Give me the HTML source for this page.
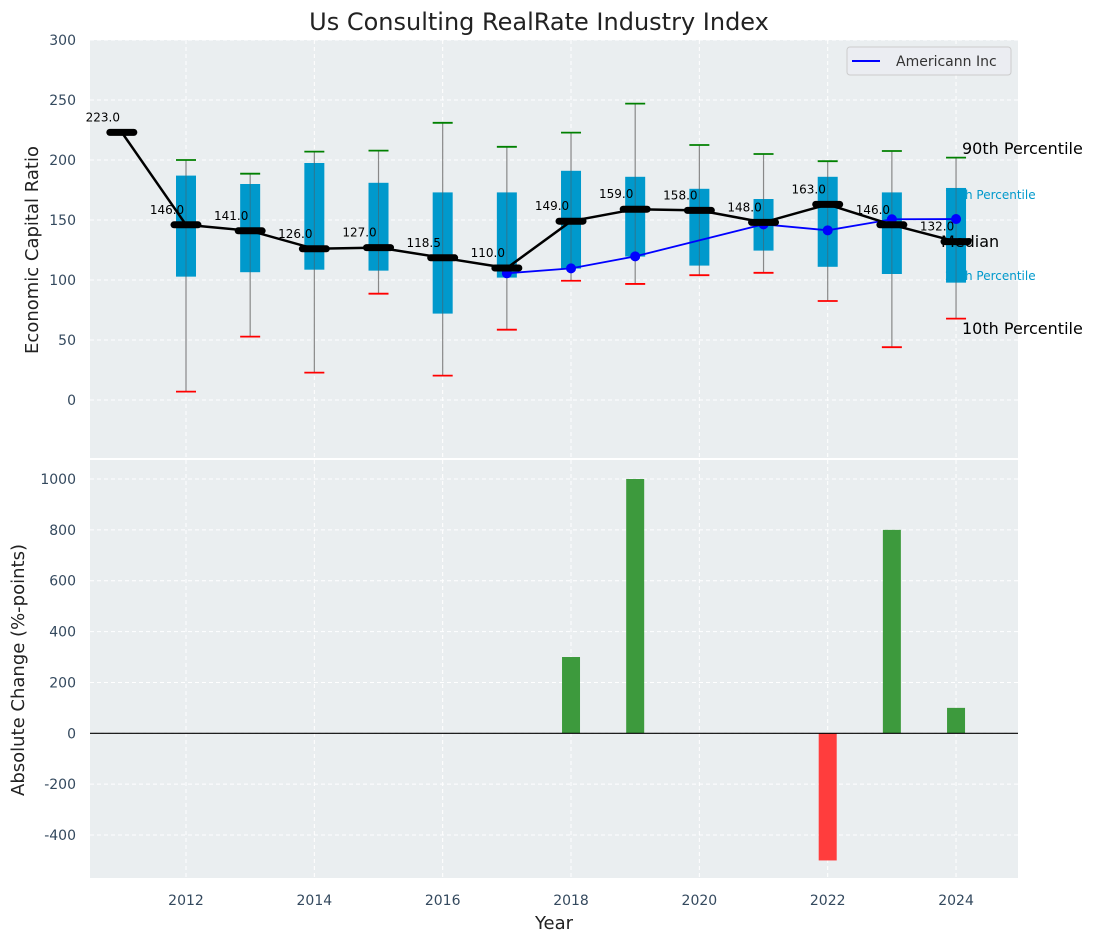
<!DOCTYPE html>
<html><head><meta charset="utf-8">
<style>
body{margin:0;background:#fff;}
svg{display:block;font-family:"DejaVu Sans","Liberation Sans",sans-serif;}
</style></head>
<body>
<svg id="chart" width="1097" height="942" viewBox="0 0 1097 942" xmlns="http://www.w3.org/2000/svg"></svg>
<script>
const years = [2011,2012,2013,2014,2015,2016,2017,2018,2019,2020,2021,2022,2023,2024];
const medians = [223,146,141,126,127,118.5,110,149,159,158,148,163,146,132];
const q75 = [null,187,180,197.5,181,173,173,191,186,176,167.5,186,173,176.7];
const q25 = [null,102.8,106.5,108.6,107.8,72,102,109.5,119.5,112,124.5,111,105,97.8];
const p90 = [null,200,188.6,207,207.8,231,211,222.8,247,212.5,205,199,207.5,202];
const p10 = [null,7,52.8,22.8,88.6,20.3,58.6,99.4,96.7,104,106,82.5,44,67.8];
const compYears = [2017,2018,2019,2021,2022,2023,2024];
const compValues = [105.6,109.7,119.7,146.4,141.4,150.6,150.8];
const changes = [0,0,0,0,0,0,0,300,1000,0,0,-500,800,100];
const topTicks = [0,50,100,150,200,250,300];
const botTicks = [-400,-200,0,200,400,600,800,1000];
const xTicks = [2012,2014,2016,2018,2020,2022,2024];

const NS="http://www.w3.org/2000/svg";
const svg=document.getElementById('chart');
function el(tag,attrs,parent){const e=document.createElementNS(NS,tag);for(const k in attrs)e.setAttribute(k,attrs[k]);(parent||svg).appendChild(e);return e;}
const L=90,R=1018;
const X=v=>186+(v-2012)*64.17;
const T0=40,T1=458,Yt=v=>400-v*1.2;
const B0=460,B1=878,Yb=v=>733.3-v*0.2543;

let e=el('rect',{x:L,y:T0,width:R-L,height:T1-T0,fill:'#eaeef0'});


e=el('rect',{x:L,y:B0,width:R-L,height:B1-B0,fill:'#eaeef0'});



topTicks.forEach(t=>{
  e=el('line',{x1:L,x2:R,y1:Yt(t),y2:Yt(t),stroke:'#fff','stroke-dasharray':'4,3','stroke-width':1});
  
  
  e=el('text',{x:76,y:Yt(t)+5,'text-anchor':'end','font-size':14,fill:'#34495e'});
  e.textContent=t;
  
  
});
botTicks.forEach(t=>{
  e=el('line',{x1:L,x2:R,y1:Yb(t),y2:Yb(t),stroke:'#fff','stroke-dasharray':'4,3','stroke-width':1});
  
  
  e=el('text',{x:76,y:Yb(t)+5,'text-anchor':'end','font-size':14,fill:'#34495e'});
  e.textContent=t;
  
  
});
xTicks.forEach(t=>{
  [[T0,T1],[B0,B1]].forEach(r=>{
    e=el('line',{x1:X(t),x2:X(t),y1:r[0],y2:r[1],stroke:'#fff','stroke-dasharray':'4,3','stroke-width':1});
    
    
  });
  e=el('text',{x:X(t),y:905,'text-anchor':'middle','font-size':14,fill:'#34495e'});
  e.textContent=t;
  
  
});

[['75th Percentile',199],['25th Percentile',280]].forEach(a=>{
  e=el('text',{x:945,y:a[1],'font-size':12,fill:'#0099cc'});
  e.textContent=a[0];
  
  
});

years.forEach((y,i)=>{
  if(q75[i]==null)return;
  const x=X(y);
  e=el('line',{x1:x,x2:x,y1:Yt(p90[i]),y2:Yt(p10[i]),stroke:'#888','stroke-width':1.2});
  
  
  e=el('rect',{x:x-10,y:Yt(q75[i]),width:20,height:Yt(q25[i])-Yt(q75[i]),fill:'#0099cc'});
  
  
  e=el('line',{x1:x,x2:x,y1:Yt(q75[i]),y2:Yt(q25[i]),stroke:'#555','stroke-width':1,'stroke-opacity':0.5});
  
  
  e=el('line',{x1:x-10,x2:x+10,y1:Yt(p90[i]),y2:Yt(p90[i]),stroke:'green','stroke-width':1.8});
  
  
  e=el('line',{x1:x-10,x2:x+10,y1:Yt(p10[i]),y2:Yt(p10[i]),stroke:'red','stroke-width':1.8});
  
  
});

e=el('text',{x:941,y:247,'font-size':16,fill:'#000'});
e.textContent='Median';



e=el('polyline',{points:compYears.map((y,i)=>X(y)+','+Yt(compValues[i])).join(' '),fill:'none',stroke:'blue','stroke-width':1.8});


compYears.forEach((y,i)=>{
  e=el('circle',{cx:X(y),cy:Yt(compValues[i]),r:5,fill:'blue'});
  
  
});

e=el('polyline',{points:years.map((y,i)=>X(y)+','+Yt(medians[i])).join(' '),fill:'none',stroke:'#000','stroke-width':2.5});


years.forEach((y,i)=>{
  e=el('line',{x1:X(y)-12,x2:X(y)+12,y1:Yt(medians[i]),y2:Yt(medians[i]),stroke:'#000','stroke-width':7,'stroke-linecap':'round'});
  
  
  e=el('text',{x:X(y)-19,y:Yt(medians[i])-11,'text-anchor':'middle','font-size':12,fill:'#000'});
  e.textContent=medians[i].toFixed(1);
  
  
});

[['90th Percentile',962,154],['10th Percentile',962,334]].forEach(a=>{
  e=el('text',{x:a[1],y:a[2],'font-size':16,fill:'#000'});
  e.textContent=a[0];
  
  
});

const lg=el('g',{});


el('rect',{x:847,y:47,width:164,height:28,rx:3,fill:'#ebedf2',stroke:'#ccc'},lg);
el('line',{x1:852,x2:880,y1:61,y2:61,stroke:'blue','stroke-width':2},lg);
e=el('text',{x:896,y:66,'font-size':14,fill:'#333'},lg);
e.textContent='Americann Inc';



years.forEach((y,i)=>{
  const v=changes[i]; if(v===0)return;
  e=el('rect',{x:X(y)-9,y:Math.min(Yb(v),Yb(0)),width:18,height:Math.abs(Yb(v)-Yb(0)),fill:v>0?'#3d9a3d':'#ff3d3d'});
  
  
});
e=el('line',{x1:L,x2:R,y1:Yb(0),y2:Yb(0),stroke:'#000','stroke-width':1.2});



e=el('text',{x:539,y:30,'text-anchor':'middle','font-size':24,fill:'#222'});
e.textContent='Us Consulting RealRate Industry Index';


e=el('text',{x:38,y:250,'text-anchor':'middle','font-size':18,fill:'#222',transform:'rotate(-90 38 250)'});
e.textContent='Economic Capital Ratio';


e=el('text',{x:24,y:670,'text-anchor':'middle','font-size':18,fill:'#222',transform:'rotate(-90 24 670)'});
e.textContent='Absolute Change (%-points)';


e=el('text',{x:554,y:929,'text-anchor':'middle','font-size':18,fill:'#222'});
e.textContent='Year';


</script>
</body></html>
